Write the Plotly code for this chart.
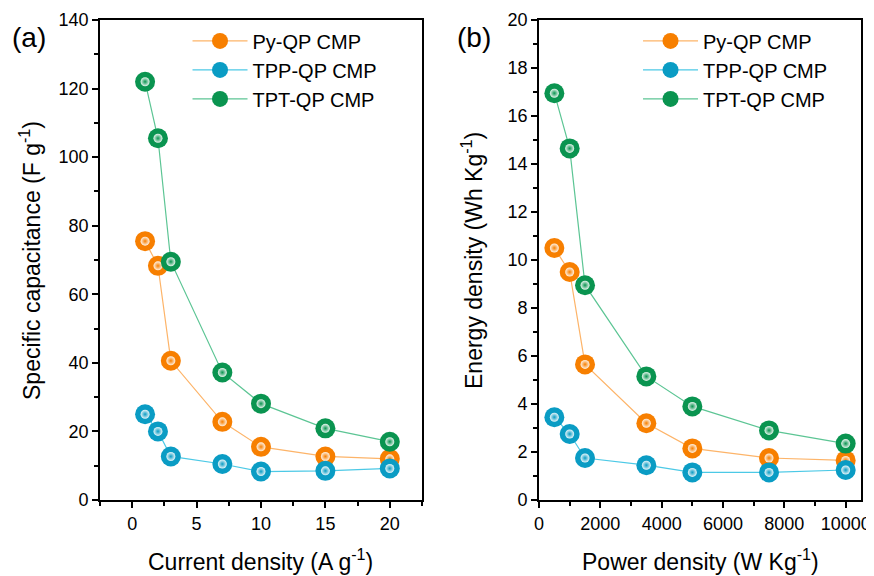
import plotly.graph_objects as go

current = [1, 2, 3, 7, 10, 15, 20]
cap_py = [75.5, 68.3, 40.6, 22.8, 15.5, 12.7, 12.0]
cap_tpp = [25.0, 20.0, 12.7, 10.5, 8.3, 8.5, 9.2]
cap_tpt = [122.0, 105.5, 69.5, 37.2, 28.1, 20.9, 17.0]

power = [500, 1000, 1500, 3500, 5000, 7500, 10000]
en_py = [10.5, 9.5, 5.65, 3.2, 2.15, 1.75, 1.65]
en_tpp = [3.45, 2.75, 1.75, 1.45, 1.15, 1.15, 1.25]
en_tpt = [16.95, 14.65, 8.95, 5.15, 3.9, 2.9, 2.35]

names = ["Py-QP CMP", "TPP-QP CMP", "TPT-QP CMP"]
base = ["#F77F00", "#0A9CC4", "#0A9450"]
linec = ["#FDB469", "#4CC9E6", "#5CC594"]

FONT = "Liberation Sans, Arial, sans-serif"

fig = go.Figure()

def add(x, y, i, xa, ya, legend, tag):
    grp = tag + str(i)
    fig.add_trace(go.Scatter(
        x=x, y=y, mode="lines+markers", name=names[i],
        xaxis=xa, yaxis=ya, legend=legend, legendgroup=grp,
        line=dict(color=linec[i], width=1.2),
        marker=dict(size=20, color=base[i], line=dict(width=0)),
    ))
    fig.add_trace(go.Scatter(
        x=x, y=y, mode="markers", showlegend=False, hoverinfo="skip",
        xaxis=xa, yaxis=ya, legend=legend, legendgroup=grp,
        marker=dict(size=9, color="white", opacity=0.9,
                    gradient=dict(type="radial", color=base[i]),
                    line=dict(width=0)),
    ))

for i, ys in enumerate([cap_py, cap_tpp, cap_tpt]):
    add(current, ys, i, "x", "y", "legend", "a")
for i, ys in enumerate([en_py, en_tpp, en_tpt]):
    add(power, ys, i, "x2", "y2", "legend2", "b")

axis_common = dict(
    showline=True, linecolor="black", linewidth=1.8, mirror=True,
    ticks="outside", ticklen=6, tickwidth=1.5, tickcolor="black",
    showgrid=False, zeroline=False, automargin=False,
    tickfont=dict(family=FONT, size=18, color="black"),
)
minor_common = dict(ticks="outside", ticklen=4, tickwidth=1.5, tickcolor="black")

fig.update_layout(
    width=874, height=576,
    paper_bgcolor="white", plot_bgcolor="white",
    margin=dict(l=92, r=21, t=12, b=84),
    showlegend=True,
    xaxis=dict(domain=[0, 0.4231], range=[-2.5, 22.5], tickvals=[0, 5, 10, 15, 20],
               minor=dict(dtick=2.5, tick0=-2.5, **minor_common), anchor="y",
               **axis_common),
    yaxis=dict(domain=[0, 1], range=[0, 140], dtick=20,
               minor=dict(dtick=10, **minor_common), anchor="x",
               **axis_common),
    xaxis2=dict(domain=[0.5769, 1.0], range=[0, 10500], tickvals=[0, 2000, 4000, 6000, 8000, 10000],
                tickformat="d",
                minor=dict(dtick=1000, tick0=0, **minor_common), anchor="y2",
                **axis_common),
    yaxis2=dict(domain=[0, 1], range=[0, 20], dtick=2,
                minor=dict(dtick=1, **minor_common), anchor="x2",
                **axis_common),
    legend=dict(x=0.115, y=0.997, xanchor="left", yanchor="top", bgcolor="rgba(0,0,0,0)",
                font=dict(family=FONT, size=20, color="black"), itemwidth=55, tracegroupgap=0),
    legend2=dict(x=0.707, y=0.997, xanchor="left", yanchor="top", bgcolor="rgba(0,0,0,0)",
                 font=dict(family=FONT, size=20, color="black"), itemwidth=55, tracegroupgap=0),
)

title_font = dict(family=FONT, size=23, color="black")
fig.add_annotation(text="Current density (A g<sup>-1</sup>)", xref="paper", yref="paper",
                   x=0.2115, y=-0.125, xanchor="center", yanchor="middle", showarrow=False, font=title_font)
fig.add_annotation(text="Power density (W Kg<sup>-1</sup>)", xref="paper", yref="paper",
                   x=0.7885, y=-0.125, xanchor="center", yanchor="middle", showarrow=False, font=title_font)
fig.add_annotation(text="Specific capacitance (F g<sup>-1</sup>)", xref="paper", yref="paper",
                   x=-0.092, y=0.5, xanchor="center", yanchor="middle", textangle=-90, showarrow=False, font=title_font)
fig.add_annotation(text="Energy density (Wh Kg<sup>-1</sup>)", xref="paper", yref="paper",
                   x=0.4888, y=0.5, xanchor="center", yanchor="middle", textangle=-90, showarrow=False, font=title_font)

fig.add_annotation(text="(a)", xref="paper", yref="paper", x=-0.118, y=1.0, xanchor="left", yanchor="top",
                   showarrow=False, font=dict(family=FONT, size=28, color="black"))
fig.add_annotation(text="(b)", xref="paper", yref="paper", x=0.466, y=1.0, xanchor="left", yanchor="top",
                   showarrow=False, font=dict(family=FONT, size=28, color="black"))

fig.write_html("out.html")
